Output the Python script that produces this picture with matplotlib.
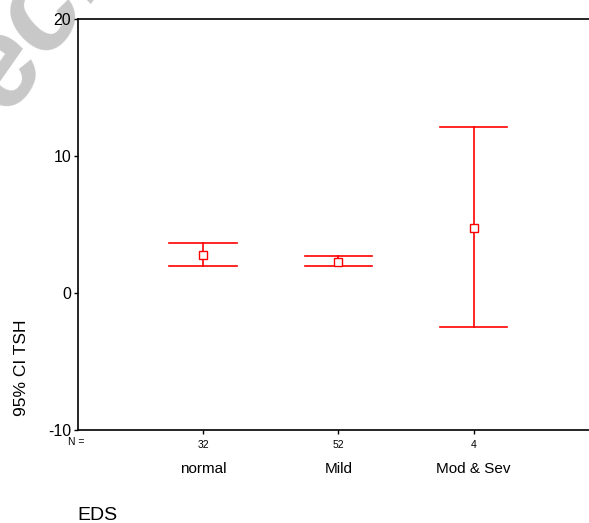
import matplotlib
matplotlib.use("Agg")
import matplotlib.pyplot as plt

plt.rcParams['font.family'] = ['Liberation Sans', 'DejaVu Sans']

categories = ["normal", "Mild", "Mod & Sev"]
counts = ["32", "52", "4"]
means = [2.77, 2.28, 4.77]
upper = [3.63, 2.70, 12.09]
lower = [1.97, 1.97, -2.46]

W, H = 589, 523
fig = plt.figure(figsize=(W / 100, H / 100), dpi=100)

# watermark (partially off-figure, behind everything)
fig.text(-65 / W, 1 - 130 / H, "eci", fontsize=90, fontweight='bold',
         fontstyle='italic', color='#c8c8c8', rotation=55,
         ha='left', va='bottom', zorder=-5)

ax = fig.add_axes([78 / W, 1 - 430 / H, 1 - 78 / W + 0.01, (430 - 19) / H])
ax.patch.set_alpha(0)
x = [1, 2, 3]
for xi, m, lo, hi in zip(x, means, lower, upper):
    ax.plot([xi, xi], [lo, hi], color='red', lw=1.2)
    ax.plot([xi - 0.25, xi + 0.25], [hi, hi], color='red', lw=1.2)
    ax.plot([xi - 0.25, xi + 0.25], [lo, lo], color='red', lw=1.2)
    ax.plot([xi], [m], marker='s', ms=6, mfc='white', mec='red', mew=1.0,
            linestyle='none', zorder=3)

ax.set_xlim(1 - 126 / 136, 3 + 122 / 136)
ax.set_ylim(-10, 20)
ax.set_yticks([-10, 0, 10, 20])
ax.set_yticklabels(["-10", "0", "10", "20"], fontsize=11.5)
ax.set_xticks(x)
ax.set_xticklabels(counts, fontsize=7.5)
ax.tick_params(axis='y', length=3, width=1, pad=2)
ax.tick_params(axis='x', length=3, width=1, pad=4)
ax.spines['right'].set_visible(False)
for s in ['left', 'top', 'bottom']:
    ax.spines[s].set_linewidth(1.2)

fig.text(21.5 / W, 1 - 368 / H, "95% CI TSH", fontsize=12.5, rotation=90,
         ha='center', va='center')

fig.text(76 / W, 1 - 442 / H, "N =", fontsize=7.5, ha='center', va='center')
for xi, c in zip(x, categories):
    xp = ax.transData.transform((xi, 0))[0] / W
    fig.text(xp, 1 - 469 / H, c, fontsize=11, ha='center', va='center')
fig.text(77 / W, 1 - 516 / H, "EDS", fontsize=14, ha='left', va='center')

fig.savefig("out.png", dpi=100)
